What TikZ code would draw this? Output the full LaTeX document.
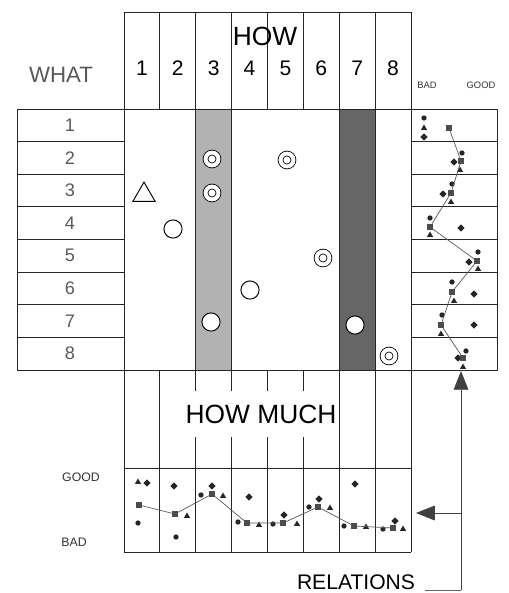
\documentclass[tikz,border=0pt]{standalone}
\usepackage{fontspec}
\setmainfont{Liberation Sans}
\usepackage{tikz}
\usetikzlibrary{shapes.geometric,arrows.meta}

\begin{document}
\begin{tikzpicture}[x=0.03cm,y=-0.03cm,
  grid/.style={draw=black!85,line width=0.8pt},
  big/.style={font=\fontsize{22.5}{24}\selectfont},
  num/.style={font=\fontsize{18}{20}\selectfont},
  what/.style={font=\fontsize{15.5}{18}\selectfont,text=black!65},
  lab/.style={font=\fontsize{10.5}{12}\selectfont,text=black!80},
  small/.style={font=\fontsize{8}{9}\selectfont,text=black!80},
  ring/.style={circle,draw,line width=0.8pt,fill=white,minimum size=15.5pt,inner sep=0pt},
  target/.style={circle,draw,double,double distance=3.4pt,line width=0.7pt,
                 fill=white,minimum size=11pt,inner sep=0pt},
  tri/.style={regular polygon,regular polygon sides=3,draw,line width=0.8pt,
              minimum size=22pt,inner sep=0pt},
  dot/.style={circle,fill=black!85,inner sep=0pt,minimum size=4.5pt},
  sq/.style={rectangle,fill=black!70,inner sep=0pt,minimum size=5pt},
  tr/.style={regular polygon,regular polygon sides=3,fill=black!85,inner sep=0pt,minimum size=6pt},
  dm/.style={diamond,fill=black!85,inner sep=0pt,minimum size=6.5pt},
  trend/.style={draw=black!65,line width=0.6pt},
  arr/.style={-{Triangle[length=16pt,width=12.5pt]},line width=0.8pt,draw=black!75}
]
\useasboundingbox (0,0) rectangle (509,593);

% shaded columns
\fill[black!30] (195.75,109) rectangle (231.625,370);
\fill[black!60] (339.25,109) rectangle (375.125,370);

% header (HOW)
\draw[grid] (124,12) rectangle (411,109);
\foreach \x in {159.875,195.75,231.625,267.5,303.375,339.25,375.125}
  \draw[grid] (\x,12) -- (\x,109);
\node[big] (how) at (265,36) {HOW};
\foreach \i in {1,...,8}
  \node[num] (h\i) at ({124+35.875*(\i-0.5)},68) {\i};

% WHAT
\node[what,font=\fontsize{19}{20}\selectfont] (what) at (61,75) {WHAT};
\draw[grid] (17,109) rectangle (124,370);
\foreach \y in {141.625,174.25,206.875,239.5,272.125,304.75,337.375}
  \draw[grid] (17,\y) -- (124,\y);
\foreach \i in {1,...,8}
  \node[what] (w\i) at (70,{109+32.625*(\i-0.5)}) {\i};

% matrix body
\draw[grid] (124,109) rectangle (411,370);
\draw[grid] (195.75,109) rectangle (231.625,370);
\draw[grid] (339.25,109) rectangle (375.125,370);

\node[tri]    (r3c1) at (144,195) {};
\node[ring]   (r4c2) at (173,229) {};
\node[target] (r2c3) at (212,159) {};
\node[target] (r3c3) at (212,193) {};
\node[ring]   (r7c3) at (211,322) {};
\node[ring]   (r6c4) at (250,290) {};
\node[target] (r2c5) at (287,160) {};
\node[target] (r5c6) at (323,258) {};
\node[ring]   (r7c7) at (355,325) {};
\node[target] (r8c8) at (389,356) {};

% right panel (BAD / GOOD)
\node[small] (hbad)  at (427,85) {BAD};
\node[small] (hgood) at (481,85) {GOOD};
\draw[grid] (411,109) rectangle (497,370);
\foreach \y in {141.625,174.25,206.875,239.5,272.125,304.75,337.375}
  \draw[grid] (411,\y) -- (497,\y);

\node[dot] (pc1) at (424,118) {}; \node[tr] (pt1) at (424,128) {}; \node[dm] (pd1) at (424,137) {}; \node[sq] (pq1) at (449,128) {};
\node[dot] (pc2) at (462,153) {}; \node[dm] (pd2) at (454,162) {}; \node[sq] (pq2) at (461,161) {}; \node[tr] (pt2) at (460,170) {};
\node[dot] (pc3) at (452,184) {}; \node[dm] (pd3) at (443,194) {}; \node[sq] (pq3) at (451,193) {}; \node[tr] (pt3) at (451,202) {};
\node[dot] (pc4) at (430,218) {}; \node[sq] (pq4) at (430,227) {}; \node[tr] (pt4) at (430,235) {}; \node[dm] (pd4) at (461,228) {};
\node[dot] (pc5) at (478,252) {}; \node[dm] (pd5) at (469,262) {}; \node[sq] (pq5) at (477,261) {}; \node[tr] (pt5) at (478,269) {};
\node[dot] (pc6) at (452,282) {}; \node[sq] (pq6) at (452,292) {}; \node[tr] (pt6) at (454,301) {}; \node[dm] (pd6) at (474,294) {};
\node[dot] (pc7) at (442,315) {}; \node[sq] (pq7) at (441,325) {}; \node[tr] (pt7) at (441,334) {}; \node[dm] (pd7) at (474,325) {};
\node[dot] (pc8) at (466,351) {}; \node[dm] (pd8) at (458,358) {}; \node[sq] (pq8) at (463,358) {}; \node[tr] (pt8) at (463,367) {};
\draw[trend] (pq1) -- (pq2) -- (pq3) -- (pq4) -- (pq5) -- (pq6) -- (pq7) -- (pq8);

% HOW MUCH
\foreach \x in {124,159.875,195.75,231.625,267.5,303.375,339.25,375.125,411}
  \draw[grid] (\x,370) -- (\x,552);
\draw[grid] (124,468) -- (411,468);
\draw[grid] (124,552) -- (411,552);
\node[big,fill=white,inner sep=1pt,minimum height=40] (howmuch) at (261,414) {HOW MUCH};

\node[lab] (good) at (81,477) {GOOD};
\node[lab] (bad)  at (74,542) {BAD};

\node[tr] (bt1) at (138,482) {}; \node[dm] (bd1) at (147,483) {}; \node[sq] (bq1) at (139,505) {}; \node[dot] (bc1) at (138,523) {};
\node[dm] (bd2) at (174,486) {}; \node[sq] (bq2) at (175,514) {}; \node[tr] (bt2) at (187,516) {}; \node[dot] (bc2) at (176,537) {};
\node[dot] (bc3) at (201,495) {}; \node[dm] (bd3) at (212,486) {}; \node[sq] (bq3) at (212,494) {}; \node[tr] (bt3) at (223,496) {};
\node[dm] (bd4) at (249,497) {}; \node[dot] (bc4) at (238,522) {}; \node[sq] (bq4) at (247,523) {}; \node[tr] (bt4) at (259,525) {};
\node[dot] (bc5) at (273,524) {}; \node[sq] (bq5) at (283,523) {}; \node[dm] (bd5) at (284,515) {}; \node[tr] (bt5) at (297,524) {};
\node[dot] (bc6) at (309,507) {}; \node[dm] (bd6) at (319,499) {}; \node[sq] (bq6) at (318,507) {}; \node[tr] (bt6) at (330,508) {};
\node[dm] (bd7) at (355,484) {}; \node[dot] (bc7) at (344,526) {}; \node[sq] (bq7) at (354,526) {}; \node[tr] (bt7) at (366,527) {};
\node[dot] (bc8) at (383,529) {}; \node[sq] (bq8) at (393,528) {}; \node[dm] (bd8) at (395,521) {}; \node[tr] (bt8) at (403,529) {};
\draw[trend] (bq1) -- (bq2) -- (bq3) -- (bq4) -- (bq5) -- (bq6) -- (bq7) -- (bq8);

% RELATIONS
\node[font=\fontsize{18}{20}\selectfont] (rel) at (356,582) {RELATIONS};
\coordinate (ptip)   at (461,371);
\coordinate (btip)   at (416,513);
\coordinate (fork)   at (461,513);
\coordinate (corner) at (461,590);
\coordinate (uline)  at (425,590);
\draw[arr] (corner) -- (ptip);
\draw[arr] (fork) -- (btip);
\draw[grid,draw=black!60] (uline) -- (corner);
\end{tikzpicture}
\end{document}
